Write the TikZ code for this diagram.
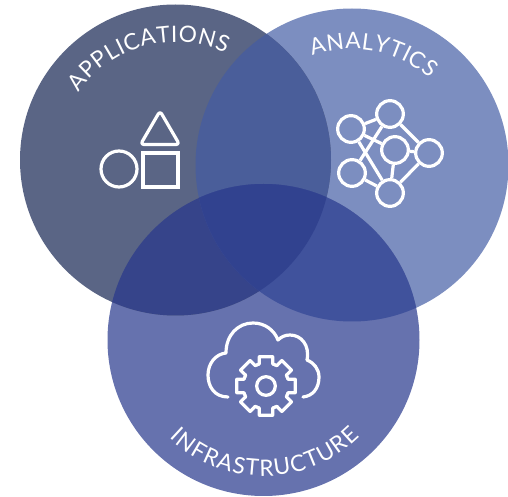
\documentclass[tikz,border=0pt]{standalone}
\usepackage{fontspec}
\setmainfont{Lato}
\usetikzlibrary{decorations.text}
\definecolor{appscol}{HTML}{5A6585}
\definecolor{analyticscol}{HTML}{7C8EC0}
\definecolor{infracol}{HTML}{6672AE}
\definecolor{appsanalytics}{HTML}{4A5E9A}
\definecolor{appsinfra}{HTML}{36448A}
\definecolor{analyticsinfra}{HTML}{40529C}
\definecolor{allthree}{HTML}{31428F}
\newcommand{\appsdisc}{(175.5,337) circle (155.5)}
\newcommand{\analyticsdisc}{(352,332) circle (156.5)}
\newcommand{\infradisc}{(263.5,157) circle (156)}
\newcommand{\labelfont}{\fontsize{17}{20}\selectfont}
\begin{document}
\begin{tikzpicture}[x=0.75pt,y=0.75pt]
	\tikzstyle{icon} = [draw=white, line width=2.4pt, line join=round, line cap=round]
	\tikzstyle{netnode} = [circle, icon, inner sep=0pt, minimum size=20pt]
	\tikzstyle{edge} = [draw=white, line width=2.4pt]
	\useasboundingbox (0,0) rectangle (508,497);
	\coordinate (apps) at (175.5,337);
	\coordinate (analytics) at (352,332);
	\coordinate (infra) at (263.5,157);
	\fill [analyticscol] \analyticsdisc;
	\fill [infracol] \infradisc;
	\fill [appscol] \appsdisc;
	\begin{scope}
		\clip \appsdisc;
		\fill [appsanalytics] \analyticsdisc;
		\fill [appsinfra] \infradisc;
	\end{scope}
	\begin{scope}
		\clip \analyticsdisc;
		\fill [analyticsinfra] \infradisc;
		\clip \appsdisc;
		\fill [allthree] \infradisc;
	\end{scope}
	\path [decorate, decoration={text along path, text color=white, text align={fit to path},
		text={|\labelfont|APPLICATIONS}}]
		([shift={(145:118)}]apps) arc (145:65:118);
	\path [decorate, decoration={text along path, text color=white, text align={fit to path},
		text={|\labelfont|ANALYTICS}}]
		([shift={(110:116)}]analytics) arc (110:48:116);
	\path [decorate, decoration={text along path, text color=white, text align={fit to path},
		text={|\labelfont|INFRASTRUCTURE}}]
		([shift={(226:136)}]infra) arc (226:315:136);
	\draw [icon, rounded corners=2.5pt] (160,386) -- (179.5,352.5) -- (140.5,352.5) -- cycle;
	\draw [icon, line cap=butt, line join=miter] (143,310) rectangle (178,344);
	\node [circle, icon, inner sep=0pt, minimum size=27pt] (ball) at (119,328) {};
	\node [netnode] (n1) at (351,368) {};
	\node [netnode] (n2) at (390,383) {};
	\node [netnode] (n3) at (395,347) {};
	\node [netnode] (n4) at (429,344) {};
	\node [netnode] (n5) at (352,324) {};
	\node [netnode] (n6) at (390,304) {};
	\draw [edge] (n1) -- (n2);
	\draw [edge] (n1) -- (n3);
	\draw [edge] (n1) -- (n6);
	\draw [edge] (n2) -- (n5);
	\draw [edge] (n2) -- (n4);
	\draw [edge] (n3) -- (n4);
	\draw [edge] (n3) -- (n6);
	\draw [edge] (n4) -- (n6);
	\draw [edge] (n5) -- (n6);
	\draw [icon] (228,100) .. controls (214,100) and (208,111) .. (208,122)
		.. controls (208,134) and (216,143) .. (226,144)
		.. controls (226,162) and (238,174) .. (253,174)
		.. controls (265,174) and (274,167) .. (278,157)
		.. controls (281,160) and (285,162) .. (290,162)
		.. controls (301,162) and (310,152) .. (307,137)
		.. controls (314,134) and (319,128) .. (319,120)
		.. controls (319,109) and (313,101) .. (303,100);
	\begin{scope}[shift={(266,111)}]
		\foreach \a in {0,45,...,315}
			\draw [icon] (\a-22.5:23) -- (\a-17:23) -- (\a-13:30) -- (\a+13:30) -- (\a+17:23) -- (\a+22.5:23);
		\node [circle, icon, inner sep=0pt, minimum size=14pt] (hub) at (0,0) {};
	\end{scope}
\end{tikzpicture}
\end{document}
